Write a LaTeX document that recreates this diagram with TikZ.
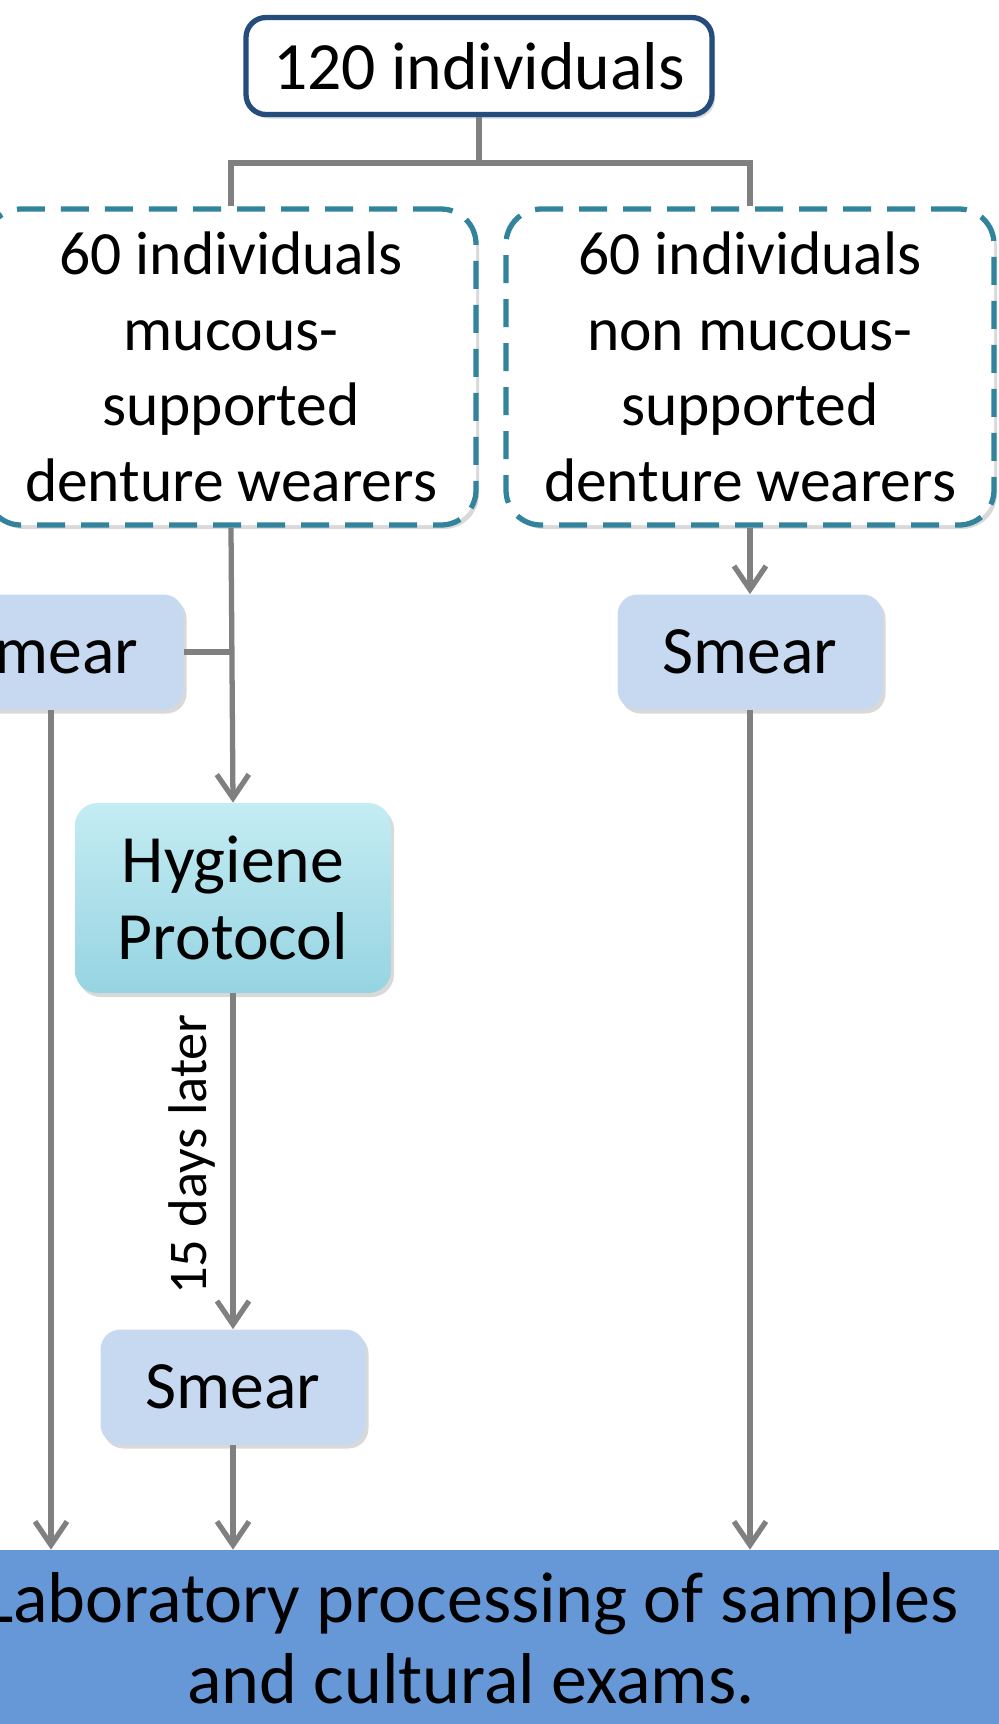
\documentclass[tikz,border=0pt]{standalone}
\usepackage{fontspec}
\setmainfont{Carlito}
\usetikzlibrary{arrows.meta,shadows}
\definecolor{navy}{RGB}{36, 76, 124}
\definecolor{teal}{RGB}{49, 132, 155}
\definecolor{smearfill}{RGB}{198, 217, 240}
\definecolor{hygtop}{RGB}{196, 236, 243}
\definecolor{hygbottom}{RGB}{150, 212, 226}
\definecolor{barfill}{RGB}{102, 152, 216}
\definecolor{linegray}{RGB}{128, 128, 128}

\tikzset{
  softshadow/.style={drop shadow={opacity=0.3, shadow xshift=0.06cm, shadow yshift=-0.08cm}},
  totalbox/.style={draw=navy, line width=3pt, rounded corners=0.4cm, fill=white, softshadow,
    minimum width=9.32cm, minimum height=1.94cm, font=\fontsize{38.5}{44}\selectfont},
  groupbox/.style={draw=teal, line width=3pt, dash pattern=on 0.56cm off 0.32cm, rounded corners=0.7cm,
    fill=white, softshadow, align=center, minimum width=9.8cm, minimum height=6.32cm,
    font=\fontsize{35}{43}\selectfont},
  smearbox/.style={fill=smearfill, rounded corners=0.4cm, softshadow,
    minimum width=5.3cm, minimum height=2.3cm, font=\fontsize{38.5}{44}\selectfont},
  hygbox/.style={top color=hygtop, bottom color=hygbottom, rounded corners=0.45cm, softshadow,
    align=center, minimum width=6.32cm, minimum height=3.8cm, font=\fontsize{38.5}{44}\selectfont},
  labbar/.style={fill=barfill, align=center, minimum width=21.2cm, minimum height=3.54cm,
    font=\fontsize{41}{46}\selectfont},
  line/.style={draw=linegray, line width=3pt},
  arrow/.style={line, ->}
}

\begin{document}
\begin{tikzpicture}[>={Straight Barb[length=0.47cm,width=0.64cm]}]
  \useasboundingbox (0,0) rectangle (19.96,-34.48);

  % Boxes
  \node[totalbox] (all) at (9.58,-1.32) {120 individuals};
  \node[groupbox] (mucous) at (4.62,-7.34) {60 individuals\\mucous-\\supported\\denture\ wearers};
  \node[groupbox, minimum width=9.76cm] (nonmucous) at (15,-7.34) {60 individuals\\non mucous-\\supported\\denture\ wearers};
  \node[smearbox] (lsmear) at (1.02,-13.04) {Smear};
  \node[smearbox] (rsmear) at (15,-13.04) {Smear};
  \node[hygbox] (hyg) at (4.66,-17.96) {Hygiene\\Protocol};
  \node[smearbox] (msmear) at (4.66,-27.74) {Smear};
  \node[labbar] (lab) at (9.42,-32.77) {Laboratory processing of samples\\and cultural exams.};

  % Split
  \coordinate (split) at (9.58,-3.26);
  \draw[line] (all.south) -- (split) -| (mucous.north);
  \draw[line] (split) -| (nonmucous.north);

  % Connectors
  \draw[arrow] (mucous.south) -- (hyg.north);
  \draw[line] (lsmear.east) -- (lsmear.east -| mucous.south);
  \draw[arrow] (nonmucous.south) -- (rsmear.north);
  \draw[arrow] (hyg.south) -- node[pos=0.48, anchor=south, rotate=90, inner sep=0.3cm,
    font=\fontsize{31}{36}\selectfont] (later) {15 days later} (msmear.north);
  \draw[arrow] (lsmear.south) -- (lsmear.south |- lab.north);
  \draw[arrow] (msmear.south) -- (msmear.south |- lab.north);
  \draw[arrow] (rsmear.south) -- (rsmear.south |- lab.north);
\end{tikzpicture}
\end{document}
